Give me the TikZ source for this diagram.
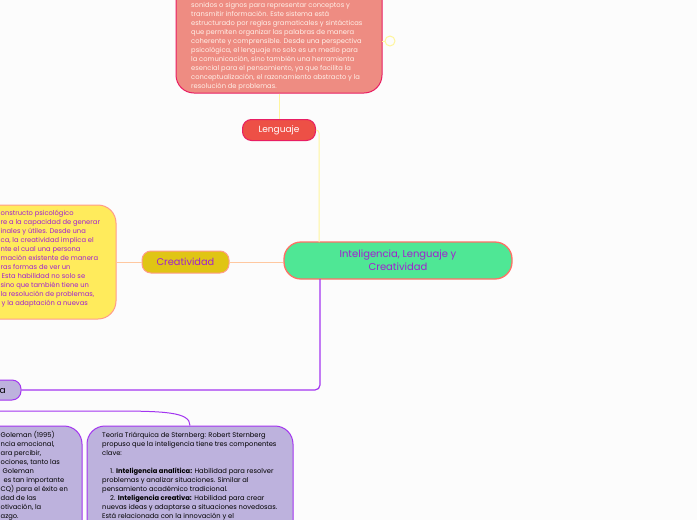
\documentclass[tikz,border=0pt]{standalone}
\usepackage{fontspec}
\setmainfont{Poppins}
\definecolor{redfill}{HTML}{EE8C82}
\definecolor{redline}{HTML}{E91E63}
\definecolor{redtop}{HTML}{ED5046}
\definecolor{paletxt}{HTML}{FFF0E8}
\definecolor{yelline}{HTML}{FFF59D}
\definecolor{orgline}{HTML}{FFC8A0}
\definecolor{orgborder}{HTML}{FF9C8A}
\definecolor{purptxt}{HTML}{A020D0}
\definecolor{purpline}{HTML}{A335F0}
\definecolor{lilac}{HTML}{BDB2DD}
\definecolor{yelfill}{HTML}{FFEB5C}
\definecolor{yeltop}{HTML}{E0C514}
\definecolor{greenfill}{HTML}{4FE795}
\definecolor{greenline}{HTML}{FF7065}
\tikzset{
    topic/.style={draw, line width=1pt, rounded corners=9pt, inner sep=0pt},
    bigbox/.style={draw, line width=1pt, rounded corners=18pt, inner sep=0pt},
    textline/.style={anchor=base west, inner sep=0pt, font=\fontsize{6.75}{9}\selectfont},
}
\begin{document}
\begin{tikzpicture}[x=1pt, y=-1pt]
    \useasboundingbox (0,0) rectangle (697,520);
    \fill[white!99!black] (0,0) rectangle (697,520);

    \node[bigbox, draw=redline, fill=redfill, minimum width=206pt, minimum height=123pt] (redbox) at (279,31.5) {};
    \node[bigbox, draw=orgborder, fill=yelfill, minimum width=146pt, minimum height=114pt] (yelbox) at (43,262) {};
    \node[bigbox, draw=purpline, fill=lilac, minimum width=112pt, minimum height=134pt] (golemanbox) at (26,493) {};
    \node[bigbox, draw=purpline, fill=lilac, minimum width=206pt, minimum height=134pt] (sternbergbox) at (190,493) {};

    \foreach \ty/\txt in {
        7.5/{sonidos o signos para representar conceptos y},
        16.5/{transmitir información. Este sistema está},
        25.5/{estructurado por reglas gramaticales y sintácticas},
        34.5/{que permiten organizar las palabras de manera},
        43.5/{coherente y comprensible. Desde una perspectiva},
        52.5/{psicológica, el lenguaje no solo es un medio para},
        61.5/{la comunicación, sino también una herramienta},
        70.5/{esencial para el pensamiento, ya que facilita la},
        79.5/{conceptualización, el razonamiento abstracto y la},
        88.5/{resolución de problemas.}}
        \node[textline, text=paletxt] at (191,\ty) {\txt};

    \foreach \tx/\ty/\txt in {
        0.5/215/{onstructo psicológico},
        0.5/224/{re a la capacidad de generar},
        0.5/233/{inales y útiles. Desde una},
        0.5/242/{ca, la creatividad implica el},
        0.5/251/{nte el cual una persona},
        0.5/260/{mación existente de manera},
        0.5/269/{ras formas de ver un},
        1.5/278/{Esta habilidad no solo se},
        0.5/287/{sino que también tiene un},
        0.5/296/{la resolución de problemas,},
        1.5/305/{y la adaptación a nuevas}}
        \node[textline, text=purptxt] at (\tx,\ty) {\txt};

    \foreach \ty/\txt in {
        437/{Teoría Triárquica de Sternberg: Robert Sternberg},
        446/{propuso que la inteligencia tiene tres componentes},
        455/{clave:},
        473/{\hspace{8pt}1. \textbf{Inteligencia analítica:} Habilidad para resolver},
        482/{problemas y analizar situaciones. Similar al},
        491/{pensamiento académico tradicional.},
        500/{\hspace{8pt}2. \textbf{Inteligencia creativa:} Habilidad para crear},
        509/{nuevas ideas y adaptarse a situaciones novedosas.},
        518/{Está relacionada con la innovación y el}}
        \node[textline] at (102,\ty) {\txt};

    \foreach \tx/\ty/\txt in {
        0.5/437/{Goleman (1995)},
        0.5/446/{ncia emocional,},
        0.5/455/{ara percibir,},
        0.5/464/{ociones, tanto las},
        2.5/473/{Goleman},
        3.5/482/{es tan importante},
        0.5/491/{CQ) para el éxito en},
        0.5/500/{dad de las},
        0.5/509/{otivación, la},
        0.5/518/{azgo.}}
        \node[textline] at (\tx,\ty) {\txt};

    \node[topic, draw=redline, fill=redtop, text=white, minimum width=73pt, minimum height=21pt, font=\fontsize{9}{11}\selectfont] (lenguaje) at (279,130) {Lenguaje};
    \node[topic, draw=orgborder, fill=yeltop, text=purptxt, minimum width=87pt, minimum height=22pt, font=\fontsize{9.8}{11}\selectfont] (creatividad) at (185.5,262) {Creatividad};
    \node[topic, draw=purpline, fill=lilac, minimum width=60pt, minimum height=20pt] (inteligenciabox) at (-9,390) {};
    \node[inner sep=0pt, font=\fontsize{9}{11}\selectfont, anchor=base east] (inteligencia) at (6,393) {a};
    \node[draw=greenline, fill=greenfill, text=purptxt, line width=1.3pt, rounded corners=17pt, minimum width=228pt, minimum height=37pt, align=center, font=\fontsize{10}{13}\selectfont] (central) at (398,260.5) {Inteligencia, Lenguaje y\\Creatividad};

    \coordinate (centraltop) at (319,242);
    \coordinate (centralbottom) at (320,279);
    \coordinate (foldknob) at (385,41);
    \coordinate (redside) at (382,41);
    \coordinate (branchstart) at (0,411);

    \draw[yelline, line width=1pt] (redside) -- (foldknob);
    \draw[yelline, line width=1pt] (390,41) circle (5);
    \draw[yelline, line width=1pt] (redbox.south) -- (lenguaje.north);
    \draw[yelline, line width=1pt, rounded corners=3pt] (lenguaje.east) -| (centraltop);
    \draw[orgline, line width=1pt] (yelbox.east) -- (creatividad.west);
    \draw[orgline, line width=1pt] (creatividad.east) -- (creatividad.east -| central.west);
    \draw[purpline, line width=1.2pt, rounded corners=5pt] (inteligenciabox.east) -| (centralbottom);
    \draw[purpline, line width=1pt] (branchstart) -- (110,411) .. controls (165,411) and (190,412) .. (sternbergbox.north);
\end{tikzpicture}
\end{document}
